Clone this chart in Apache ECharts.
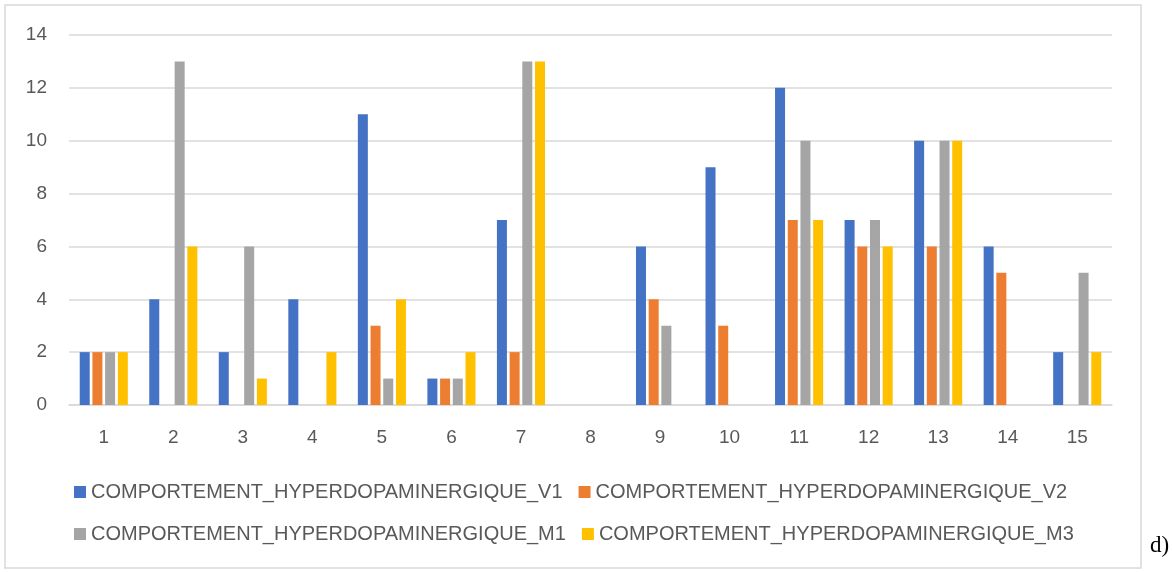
<!DOCTYPE html>
<html>
<head>
<meta charset="utf-8">
<script src="https://cdn.jsdelivr.net/npm/echarts@6/dist/echarts.min.js"></script>
<style>
  html, body { margin: 0; padding: 0; background: #fff; }
  #chart { width: 1172px; height: 572px; }
</style>
</head>
<body>
<div id="chart"></div>
<script>
const categories = ['1','2','3','4','5','6','7','8','9','10','11','12','13','14','15'];
const seriesNames = [
  'COMPORTEMENT_HYPERDOPAMINERGIQUE_V1',
  'COMPORTEMENT_HYPERDOPAMINERGIQUE_V2',
  'COMPORTEMENT_HYPERDOPAMINERGIQUE_M1',
  'COMPORTEMENT_HYPERDOPAMINERGIQUE_M3'
];
const v1 = [2, 4, 2, 4, 11, 1, 7, 0, 6, 9, 12, 7, 10, 6, 2];
const v2 = [2, 0, 0, 0, 3, 1, 2, 0, 4, 3, 7, 6, 6, 5, 0];
const m1 = [2, 13, 6, 0, 1, 1, 13, 0, 3, 0, 10, 7, 10, 0, 5];
const m3 = [2, 6, 1, 2, 4, 2, 13, 0, 0, 0, 7, 6, 10, 0, 2];
const colors = ['#4472C4', '#ED7D31', '#A5A5A5', '#FFC000'];

const chart = echarts.init(document.getElementById('chart'));
const textColor = '#595959';
const legendBase = {
  left: 69,
  icon: 'rect',
  itemWidth: 12,
  itemHeight: 12,
  itemGap: 16,
  selectedMode: false,
  textStyle: { color: textColor, fontSize: 20, fontFamily: 'Liberation Sans' }
};

chart.setOption({
  animation: false,
  color: colors,
  grid: { left: 69, right: 60, top: 35, bottom: 167 },
  legend: [
    Object.assign({ top: 477, data: [seriesNames[0], seriesNames[1]] }, legendBase),
    Object.assign({ top: 519, data: [seriesNames[2], seriesNames[3]] }, legendBase)
  ],
  xAxis: {
    type: 'category',
    data: categories,
    axisLine: { lineStyle: { color: '#d9d9d9', width: 1.5 } },
    axisTick: { show: false },
    axisLabel: { color: textColor, fontSize: 19, margin: 23, fontFamily: 'Liberation Sans' }
  },
  yAxis: {
    type: 'value',
    min: 0,
    max: 14,
    interval: 2,
    axisLine: { show: false },
    axisTick: { show: false },
    splitLine: { lineStyle: { color: '#d9d9d9', width: 1.5 } },
    axisLabel: { color: textColor, fontSize: 19, margin: 22, fontFamily: 'Liberation Sans' }
  },
  series: [v1, v2, m1, m3].map((d, i) => ({
    name: seriesNames[i],
    type: 'bar',
    data: d,
    barWidth: 10,
    barGap: '27%'
  })),
  graphic: [
    {
      type: 'rect',
      shape: { x: 5, y: 5, width: 1136, height: 563 },
      style: { fill: 'none', stroke: '#d9d9d9', lineWidth: 1.5 },
      silent: true
    },
    {
      type: 'text',
      left: 1150,
      top: 534,
      style: { text: 'd)', fill: '#000', fontSize: 23, fontFamily: 'Liberation Serif' }
    }
  ]
});
</script>
</body>
</html>
